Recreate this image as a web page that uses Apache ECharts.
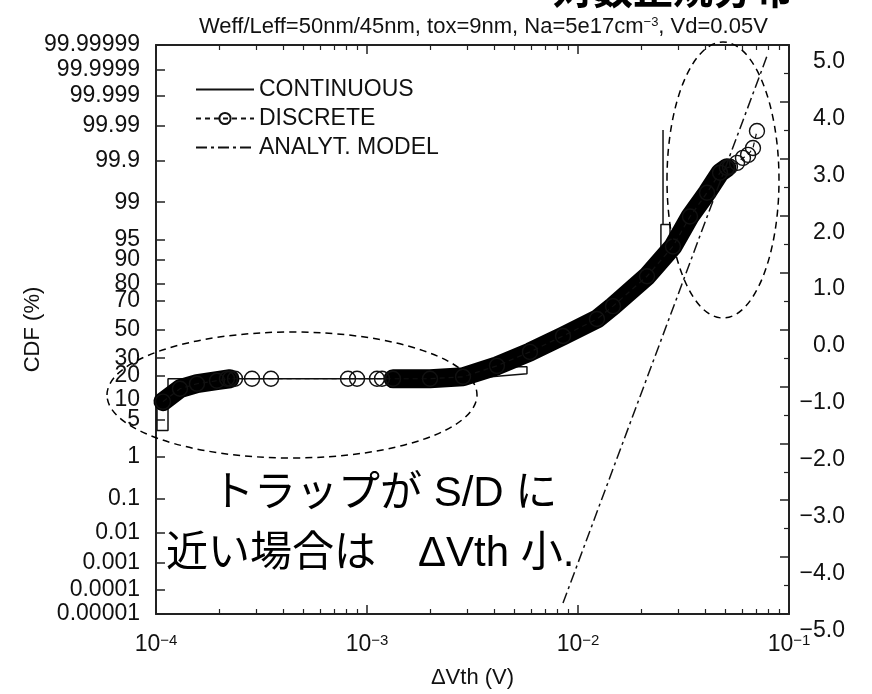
<!DOCTYPE html>
<html><head><meta charset="utf-8">
<script src="https://cdn.jsdelivr.net/npm/echarts@6/dist/echarts.min.js"></script>
<style>html,body{margin:0;padding:0;background:#fff}#c{width:872px;height:694px}</style>
</head><body><div id="c"></div>
<script>
const FONT = '"Liberation Sans", Arial, Helvetica, sans-serif';
const JP = '"Noto Sans CJK JP", "Noto Sans CJK SC", sans-serif';
const MIX = '"Liberation Sans", "Noto Sans CJK JP", sans-serif';

// ---- axis tick labels ----
const cdfTickLabels = ['99.99999','99.9999','99.999','99.99','99.9','99','95','90','80','70','50','30','20','10','5','1','0.1','0.01','0.001','0.0001','0.00001'];
const sigmaTicks = [-5,-4,-3,-2,-1,0,1,2,3,4,5];
const sigmaMinorTicks = [-4.5,-3.5,-2.5,-1.5,-0.5,0.5,1.5,2.5,3.5,4.5];
const minorTickValues = [2e-4,3e-4,4e-4,5e-4,6e-4,7e-4,8e-4,9e-4,2e-3,3e-3,4e-3,5e-3,6e-3,7e-3,8e-3,9e-3,2e-2,3e-2,4e-2,5e-2,6e-2,7e-2,8e-2,9e-2];

// ---- data (ΔVth in V, CDF expressed in sigma units) ----
const continuousX = [1.011e-4,1.011e-4,1.14e-4,1.14e-4,2.85e-3,4.0e-3,5.73e-3,5.73e-3,4.92e-3,8.2e-3,0.0123,0.01465,0.02123,0.02472,0.02472,0.02529,0.02529,0.02529,0.0273,0.0273];
const continuousZ = [-1.39,-1.845,-1.845,-0.9,-0.9,-0.86,-0.81,-0.68,-0.68,-0.12,0.19,0.43,0.97,1.336,1.918,1.918,3.645,1.918,1.918,1.645];

const discreteLowX = [1.079e-4,1.299e-4,1.564e-4,1.945e-4,2.241e-4];
const discreteLowZ = [-1.318,-1.082,-0.991,-0.936,-0.9];
const discreteMidX = [2.17e-4,2.368e-4,2.851e-4,3.507e-4,8.13e-4,8.97e-4,1.115e-3,1.178e-3];
const discreteMidZ = [-0.9,-0.9,-0.9,-0.9,-0.9,-0.9,-0.9,-0.9];
const discreteHighX = [1.328e-3,1.989e-3,2.851e-3,4.13e-3,5.92e-3,8.49e-3,0.0123,0.01465,0.02123,0.02819,0.03395,0.04087,0.0471,0.0508];
const discreteHighZ = [-0.9,-0.9,-0.864,-0.664,-0.409,-0.118,0.191,0.427,0.973,1.518,2.064,2.5,2.864,2.955];
const discreteTailX = [0.0525,0.0567,0.0605,0.064,0.0675,0.0705];
const discreteTailZ = [2.973,3.045,3.136,3.191,3.318,3.627];

const modelX = [8.49e-3,0.0787];
const modelZ = [-5,5];

// inverse standard normal CDF (Acklam)
function probit(p){
  const a=[-3.969683028665376e+01,2.209460984245205e+02,-2.759285104469687e+02,1.383577518672690e+02,-3.066479806614716e+01,2.506628277459239e+00];
  const b=[-5.447609879822406e+01,1.615858368580409e+02,-1.556989798598866e+02,6.680131188771972e+01,-1.328068155288572e+01];
  const c=[-7.784894002430293e-03,-3.223964580411365e-01,-2.400758277161838e+00,-2.549671348433885e+00,4.374664141464968e+00,2.938163982698783e+00];
  const d=[7.784695709041462e-03,3.224671290700398e-01,2.445134137142996e+00,3.754408661907416e+00];
  const pl=0.02425; let q,r;
  if(p<pl){q=Math.sqrt(-2*Math.log(p));return (((((c[0]*q+c[1])*q+c[2])*q+c[3])*q+c[4])*q+c[5])/((((d[0]*q+d[1])*q+d[2])*q+d[3])*q+1);}
  if(p<=1-pl){q=p-0.5;r=q*q;return (((((a[0]*r+a[1])*r+a[2])*r+a[3])*r+a[4])*r+a[5])*q/(((((b[0]*r+b[1])*r+b[2])*r+b[3])*r+b[4])*r+1);}
  q=Math.sqrt(-2*Math.log(1-p));return -(((((c[0]*q+c[1])*q+c[2])*q+c[3])*q+c[4])*q+c[5])/((((d[0]*q+d[1])*q+d[2])*q+d[3])*q+1);
}
const cdfTicks = cdfTickLabels.map(t => ({z: probit(parseFloat(t)/100), t}));
const zVals = cdfTicks.map(o => o.z);
const zMax = Math.max(...zVals), zMin = Math.min(...zVals);
const lg = v => Math.log10(v);
const pairs = (xs, zs) => xs.map((x,i) => [lg(x), zs[i]]);

const discreteAll = pairs(discreteLowX, discreteLowZ).concat(pairs(discreteMidX, discreteMidZ), pairs(discreteHighX, discreteHighZ), pairs(discreteTailX, discreteTailZ));
const bandData = pairs(discreteLowX, discreteLowZ).concat([[null,null]], pairs(discreteHighX, discreteHighZ));

const axisColor = '#222';
const lbl = {fontFamily: FONT, fontSize: 23, color: '#111'};
const noLine = {show: false, onZero: false};

const chart = echarts.init(document.getElementById('c'), null, {renderer: 'canvas'});
chart.setOption({
  animation: false,
  backgroundColor: '#fff',
  color: ['#111'],
  title: {
    text: 'Weff/Leff=50nm/45nm, tox=9nm, Na=5e17cm{s|−3}, Vd=0.05V',
    left: 194, top: 11,
    textStyle: {fontFamily: FONT, fontSize: 22, fontWeight: 'normal', color: '#111',
      rich: {s: {fontFamily: FONT, fontSize: 13, verticalAlign: 'top', color: '#111'}}}
  },
  grid: {left: 156, right: 83, top: 45, bottom: 78, containLabel: false},
  legend: {
    data: [
      {name: 'CONTINUOUS', itemStyle: {opacity: 0}},
      {name: 'DISCRETE'},
      {name: 'ANALYT. MODEL', itemStyle: {opacity: 0}}
    ],
    orient: 'vertical', left: 190, top: 73,
    itemWidth: 58, itemHeight: 14, itemGap: 6, selectedMode: false,
    textStyle: {fontFamily: FONT, fontSize: 23, color: '#111', lineHeight: 22}
  },
  xAxis: [
    {type: 'value', position: 'bottom', min: -4, max: -1, interval: 1,
     axisLine: {onZero: false, lineStyle: {color: axisColor, width: 2}},
     axisTick: {inside: true, length: 9, lineStyle: {color: axisColor, width: 1.5}},
     splitLine: {show: false},
     axisLabel: {margin: 19, formatter: v => '{b|10}{s|−' + Math.round(-v) + '}',
       rich: {b: {fontFamily: FONT, fontSize: 23, color: '#111'}, s: {fontFamily: FONT, fontSize: 15, color: '#111', verticalAlign: 'top'}}},
     name: 'ΔVth (V)', nameLocation: 'middle', nameGap: 53, nameMoveOverlap: false,
     nameTextStyle: {fontFamily: FONT, fontSize: 22, color: '#111'}},
    {type: 'value', position: 'bottom', min: -4, max: -1,
     axisLine: noLine, splitLine: {show: false}, axisLabel: {show: false},
     axisTick: {inside: true, length: 5, customValues: minorTickValues.map(lg), lineStyle: {color: axisColor, width: 1.2}}},
    {type: 'value', position: 'top', min: -4, max: -1, interval: 1,
     axisLine: {onZero: false, lineStyle: {color: axisColor, width: 2}}, splitLine: {show: false}, axisLabel: {show: false},
     axisTick: {inside: true, length: 9, lineStyle: {color: axisColor, width: 1.5}}},
    {type: 'value', position: 'top', min: -4, max: -1,
     axisLine: noLine, splitLine: {show: false}, axisLabel: {show: false},
     axisTick: {inside: true, length: 5, customValues: minorTickValues.map(lg), lineStyle: {color: axisColor, width: 1.2}}}
  ],
  yAxis: [
    {type: 'value', position: 'left', min: zMin, max: zMax,
     axisLine: {onZero: false, lineStyle: {color: axisColor, width: 2}},
     axisTick: {inside: true, length: 9, customValues: zVals, lineStyle: {color: axisColor, width: 1.5}},
     splitLine: {show: false},
     axisLabel: Object.assign({margin: 16, customValues: zVals,
       formatter: v => { let best = cdfTicks[0]; cdfTicks.forEach(o => { if (Math.abs(o.z - v) < Math.abs(best.z - v)) best = o; }); return best.t; }}, lbl),
     name: 'CDF (%)', nameLocation: 'middle', nameGap: 112, nameRotate: 90, nameMoveOverlap: false,
     nameTextStyle: {fontFamily: FONT, fontSize: 22, color: '#111'}},
    {type: 'value', position: 'right', min: -5, max: 5,
     axisLine: {show: true, onZero: false, lineStyle: {color: axisColor, width: 2}},
     axisTick: {inside: true, length: 9, customValues: sigmaTicks, lineStyle: {color: axisColor, width: 1.5}},
     splitLine: {show: false},
     axisLabel: Object.assign({margin: 56, align: 'right', verticalAlign: 'top', padding: [5, 0, 0, 0], customValues: sigmaTicks,
       formatter: v => (v < 0 ? '−' : '') + Math.abs(v).toFixed(1)}, lbl)},
    {type: 'value', position: 'right', min: -5, max: 5,
     axisLine: noLine, splitLine: {show: false}, axisLabel: {show: false},
     axisTick: {inside: true, length: 5, customValues: sigmaMinorTicks, lineStyle: {color: axisColor, width: 1.2}}}
  ],
  series: [
    {name: 'CONTINUOUS', type: 'line', xAxisIndex: 0, yAxisIndex: 0, z: 2,
     data: pairs(continuousX, continuousZ), symbol: 'none',
     itemStyle: {color: '#111'},
     lineStyle: {color: '#111', width: 1.5}},
    {name: 'DISCRETE', type: 'line', xAxisIndex: 0, yAxisIndex: 0, z: 4,
     data: discreteAll, symbol: 'circle', symbolSize: 15,
     itemStyle: {color: 'rgba(255,255,255,0)', borderColor: '#111', borderWidth: 1.4},
     lineStyle: {color: '#111', width: 1.2, type: [5, 4]}},
    {name: 'DISCRETE band', type: 'line', xAxisIndex: 0, yAxisIndex: 0, z: 3,
     data: bandData, symbol: 'none', connectNulls: false,
     itemStyle: {color: '#000'},
     lineStyle: {color: '#000', width: 19, cap: 'round', join: 'round'}},
    {name: 'ANALYT. MODEL', type: 'line', xAxisIndex: 0, yAxisIndex: 0, z: 5,
     data: pairs(modelX, modelZ), symbol: 'none',
     itemStyle: {color: '#111'},
     lineStyle: {color: '#111', width: 1.5, type: [11, 4, 3, 4]}}
  ],
  graphic: [
    {type: 'text', x: 553, y: 9, z: 100, silent: true,
     style: {text: '対数正規分布', font: 'bold 40px ' + JP, fill: '#000', textAlign: 'left', textVerticalAlign: 'bottom', align: 'left', verticalAlign: 'bottom'}},
    {type: 'ellipse', z: 100, silent: true, shape: {cx: 292, cy: 395, rx: 185, ry: 63},
     style: {fill: 'none', stroke: '#000', lineWidth: 1.5, lineDash: [7, 5]}},
    {type: 'ellipse', z: 100, silent: true, shape: {cx: 723, cy: 180, rx: 56, ry: 138},
     style: {fill: 'none', stroke: '#000', lineWidth: 1.5, lineDash: [7, 5]}},
    {type: 'text', x: 212, y: 494, z: 100, silent: true,
     style: {text: 'トラップが S/D に', font: '42px ' + MIX, fill: '#000', textAlign: 'left', textVerticalAlign: 'middle', align: 'left', verticalAlign: 'middle'}},
    {type: 'text', x: 166, y: 554, z: 100, silent: true,
     style: {text: '近い場合は　ΔVth 小.', font: '42px ' + MIX, fill: '#000', textAlign: 'left', textVerticalAlign: 'middle', align: 'left', verticalAlign: 'middle'}}
  ]
});
</script></body></html>
